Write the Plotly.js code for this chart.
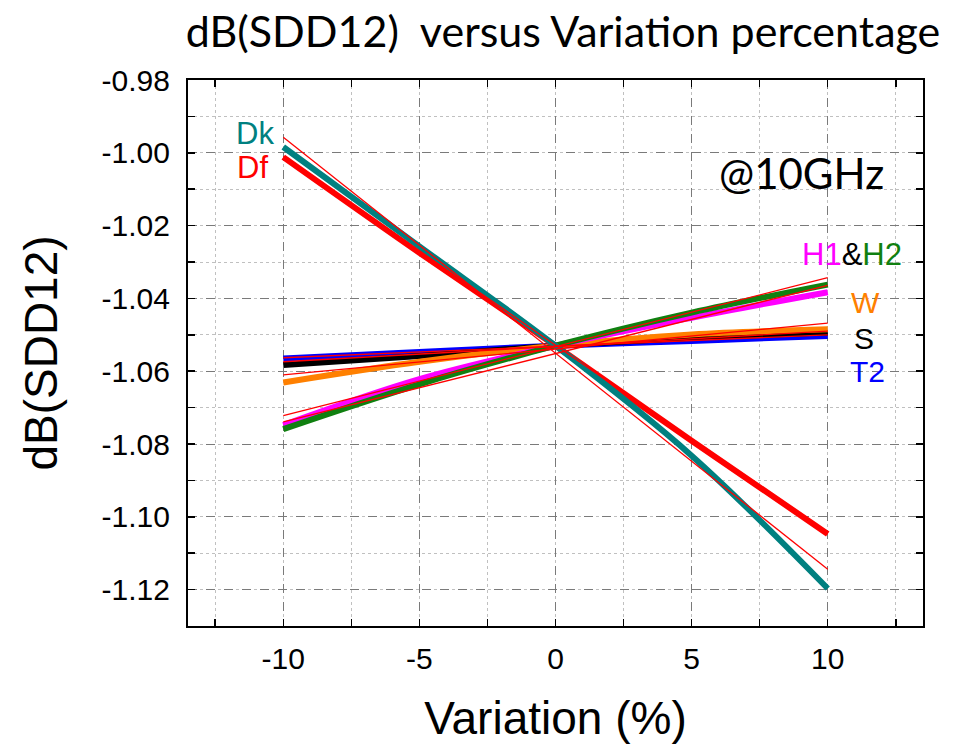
<!DOCTYPE html>
<html>
<head>
<meta charset="utf-8">
<script src="https://cdn.plot.ly/plotly-3.0.1.min.js"></script>
<style>html,body{margin:0;padding:0;background:#fff;}#chart{width:969px;height:752px;}</style>
</head>
<body>
<div id="chart"></div>
<script>
// Variation (%)
const variation = [-10, -5, 0, 5, 10];
// dB(SDD12) values
const dk = [-0.9984, -1.0257, -1.0530, -1.0832, -1.1197];
const df = [-1.0012, -1.0275, -1.0530, -1.0791, -1.1047];
const h1 = [-1.0748, -1.0622, -1.0530, -1.0453, -1.0383];
const h2 = [-1.0759, -1.0636, -1.0530, -1.0439, -1.0362];
const w  = [-1.0631, -1.0574, -1.0530, -1.0499, -1.0485];
const s  = [-1.0583, -1.0558, -1.0530, -1.0508, -1.0494];
const t2 = [-1.0565, -1.0547, -1.0530, -1.0517, -1.0503];

// linear fit lines (end points at -10 and 10)
const fitX = [-10, 10];
const fitDk = [-0.9957, -1.1144];
const fitDf = [-1.0010, -1.1047];
const fitH1 = [-1.0722, -1.0343];
const fitH2 = [-1.0739, -1.0364];
const fitW  = [-1.0610, -1.0468];
const fitS  = [-1.0574, -1.0490];
const fitT2 = [-1.0563, -1.0500];

const xTickVals = [-10, -5, 0, 5, 10];
const xTickText = ['-10', '-5', '0', '5', '10'];
const yTickVals = [-0.98, -1.00, -1.02, -1.04, -1.06, -1.08, -1.10, -1.12];
const yTickText = ['-0.98', '-1.00', '-1.02', '-1.04', '-1.06', '-1.08', '-1.10', '-1.12'];

const series = [
  {y: t2, color: '#0000FF'},
  {y: s,  color: '#000000'},
  {y: w,  color: '#FF8000'},
  {y: h1, color: '#FF00FF'},
  {y: h2, color: '#108010'},
  {y: df, color: '#FF0000'},
  {y: dk, color: '#008080'}
];
const fits = [fitDk, fitDf, fitH1, fitH2, fitW, fitS, fitT2];

const traces = [];
series.forEach(sr => traces.push({
  x: variation, y: sr.y, type: 'scatter', mode: 'lines',
  line: {color: sr.color, width: 6, shape: 'spline'}, showlegend: false, hoverinfo: 'skip'
}));
fits.forEach(f => traces.push({
  x: fitX, y: f, type: 'scatter', mode: 'lines',
  line: {color: '#FF0000', width: 1.3}, showlegend: false, hoverinfo: 'skip'
}));

const labelFont = (c, sz) => ({family: 'Liberation Sans, Arial, sans-serif', size: sz || 31, color: c});
const annotations = [
  {x: 255, y: 133, text: 'Dk', font: labelFont('#008080')},
  {x: 252, y: 167, text: 'Df', font: labelFont('#FF0000')},
  {x: 852, y: 255, text: '<span style="color:#FF00FF">H1</span><span style="color:#000000">&amp;</span><span style="color:#108010">H2</span>', font: labelFont('#000000')},
  {x: 865, y: 302, text: 'W', font: labelFont('#FF8000', 30)},
  {x: 864, y: 338, text: 'S', font: labelFont('#000000', 30)},
  {x: 867, y: 371, text: 'T2', font: labelFont('#0000FF', 30)},
  {x: 801, y: 173, text: '@10GHz', font: {family: 'Lato, Open Sans, sans-serif', size: 42, color: '#000'}}
].map(a => Object.assign({xref: 'paper', yref: 'paper', showarrow: false, xanchor: 'center', yanchor: 'middle', borderpad: 0}, a, {
  x: (a.x - 188) / (923 - 188), y: 1 - (a.y - 80) / (626 - 80)
}));

const axisCommon = {
  showline: true, linecolor: '#000', linewidth: 2, mirror: 'allticks',
  ticks: 'inside', ticklen: 7, tickwidth: 1.5, tickcolor: '#000',
  showgrid: true, gridcolor: '#7a7a7a', griddash: 'dash', gridwidth: 1,
  zeroline: false,
  tickfont: {family: 'Liberation Sans, Arial, sans-serif', size: 30, color: '#000'}
};

const layout = {
  width: 969, height: 752,
  margin: {l: 188, r: 46, t: 80, b: 126},
  paper_bgcolor: '#fff', plot_bgcolor: '#fff',
  title: {text: 'dB(SDD12)  versus Variation percentage', x: 0.581, xanchor: 'center', y: 0.958, yanchor: 'middle',
          font: {family: 'Lato, Open Sans, sans-serif', size: 43, color: '#000'}},
  xaxis: Object.assign({}, axisCommon, {
    range: [-13.5, 13.5], tickmode: 'array', tickvals: xTickVals, ticktext: xTickText, ticklabelstandoff: 5,
    minor: {dtick: 2.5, tick0: 0, showgrid: true, gridcolor: '#c0c0c0', griddash: 'dot', ticks: 'inside', ticklen: 7, tickcolor: '#000'},
    title: {text: 'Variation (%)', standoff: 28, font: {family: 'Liberation Sans, Arial, sans-serif', size: 46, color: '#000'}}
  }),
  yaxis: Object.assign({}, axisCommon, {
    range: [-1.13, -0.98], tickmode: 'array', tickvals: yTickVals, ticktext: yTickText, ticklabelstandoff: 10,
    minor: {dtick: 0.01, tick0: -0.98, showgrid: true, gridcolor: '#c0c0c0', griddash: 'dot', ticks: 'inside', ticklen: 7, tickcolor: '#000'},
    title: {text: 'dB(SDD12)', standoff: 30, font: {family: 'Liberation Sans, Arial, sans-serif', size: 46, color: '#000'}}
  }),
  annotations: annotations
};

Plotly.newPlot('chart', traces, layout, {staticPlot: true, displayModeBar: false});
</script>
</body>
</html>
